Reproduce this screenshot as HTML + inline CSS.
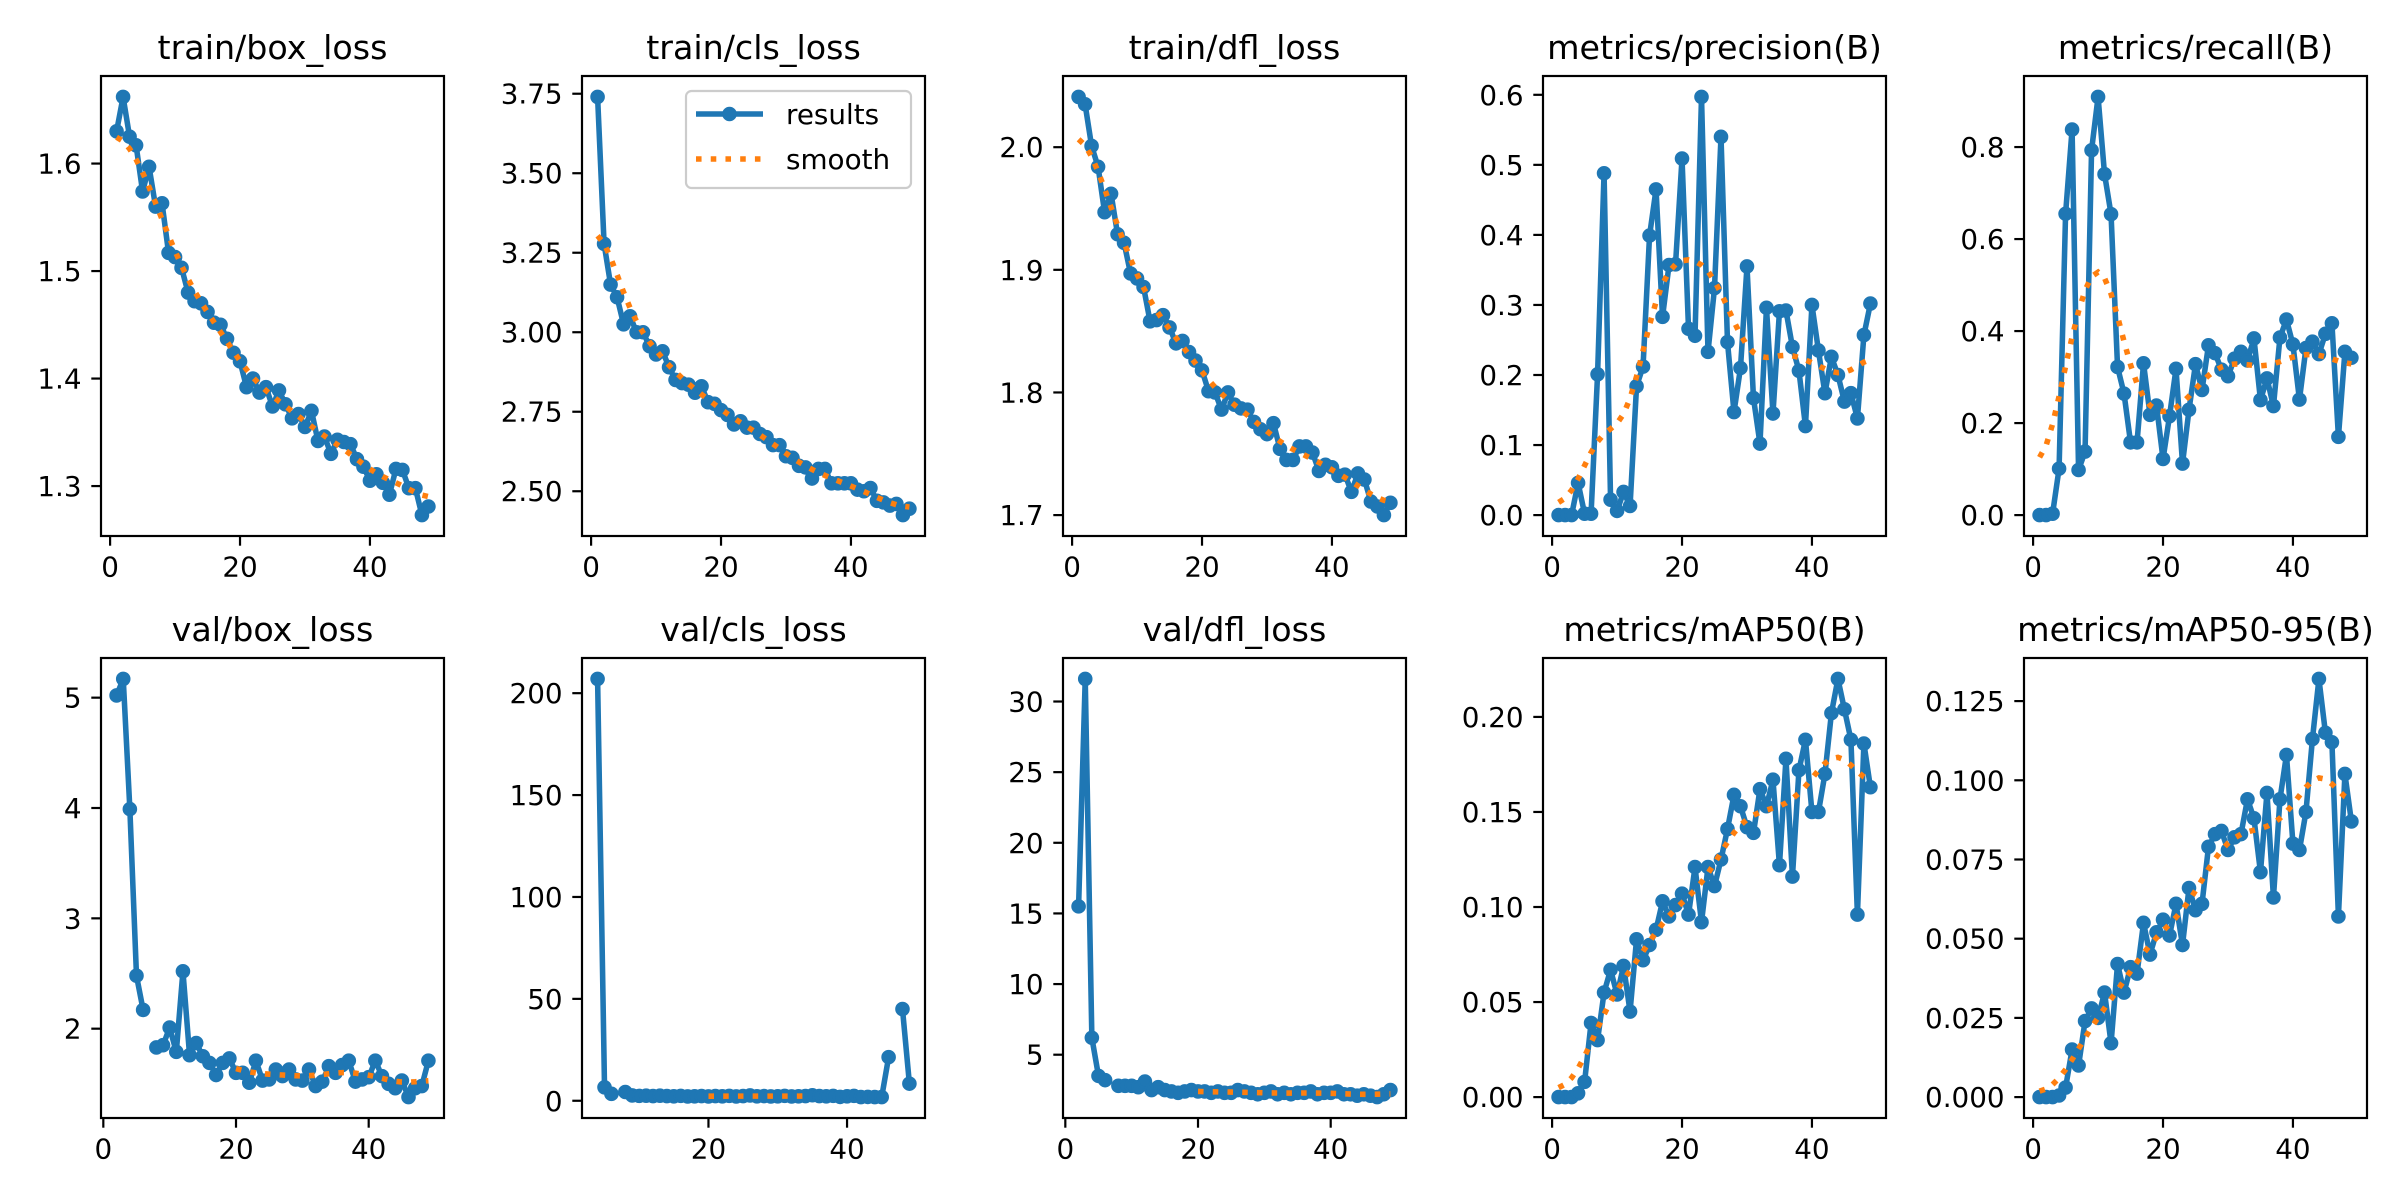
<!DOCTYPE html>
<html><head><meta charset="utf-8"><title>results</title>
<style>
html,body{margin:0;padding:0;background:#fff;}
svg{display:block;font-family:"DejaVu Sans","Liberation Sans",sans-serif;}
</style></head>
<body>
<svg id="fig" width="2400" height="1200" viewBox="0 0 2400 1200" xmlns="http://www.w3.org/2000/svg">
<rect x="0" y="0" width="2400" height="1200" fill="#ffffff"/>
</svg>
<script>
const epochs = [1,2,3,4,5,6,7,8,9,10,11,12,13,14,15,16,17,18,19,20,21,22,23,24,25,26,27,28,29,30,31,32,33,34,35,36,37,38,39,40,41,42,43,44,45,46,47,48,49];

const trainBoxLoss = [1.630,1.662,1.625,1.617,1.574,1.597,1.560,1.563,1.517,1.513,1.503,1.480,1.472,1.470,1.462,1.452,1.450,1.437,1.424,1.416,1.392,1.400,1.387,1.392,1.374,1.389,1.376,1.363,1.367,1.355,1.370,1.342,1.346,1.330,1.343,1.341,1.339,1.325,1.318,1.305,1.311,1.303,1.292,1.316,1.315,1.298,1.298,1.273,1.281];
const trainClsLoss = [3.74,3.278,3.15,3.11,3.025,3.05,3.00,3.00,2.956,2.93,2.94,2.89,2.85,2.84,2.835,2.81,2.83,2.78,2.775,2.755,2.74,2.71,2.72,2.70,2.70,2.68,2.67,2.645,2.645,2.61,2.605,2.58,2.575,2.54,2.57,2.57,2.525,2.525,2.525,2.525,2.505,2.50,2.51,2.47,2.465,2.455,2.46,2.425,2.445];
const trainDflLoss = [2.041,2.035,2.001,1.984,1.947,1.962,1.929,1.922,1.897,1.893,1.886,1.858,1.859,1.863,1.853,1.840,1.842,1.833,1.826,1.818,1.801,1.800,1.786,1.800,1.790,1.787,1.786,1.776,1.770,1.766,1.775,1.754,1.745,1.745,1.756,1.756,1.751,1.736,1.741,1.739,1.732,1.733,1.719,1.734,1.729,1.711,1.707,1.700,1.710];
const precision = [0,0,0,0.046,0.002,0.002,0.201,0.488,0.022,0.006,0.033,0.013,0.184,0.212,0.399,0.465,0.283,0.357,0.358,0.509,0.266,0.256,0.597,0.233,0.324,0.540,0.247,0.147,0.210,0.355,0.167,0.102,0.296,0.145,0.291,0.292,0.240,0.206,0.127,0.300,0.235,0.174,0.226,0.200,0.162,0.174,0.138,0.257,0.302];
const recall = [0,0,0.003,0.101,0.655,0.838,0.098,0.138,0.793,0.909,0.741,0.654,0.322,0.264,0.158,0.158,0.330,0.218,0.238,0.122,0.215,0.318,0.112,0.229,0.328,0.272,0.369,0.352,0.316,0.302,0.340,0.355,0.336,0.384,0.250,0.297,0.237,0.386,0.425,0.371,0.251,0.363,0.377,0.350,0.394,0.417,0.170,0.355,0.342];
const valBoxLoss = [null,5.02,5.17,3.99,2.48,2.17,null,1.83,1.85,2.01,1.79,2.52,1.76,1.87,1.75,1.69,1.58,1.69,1.73,1.60,1.60,1.51,1.71,1.53,1.54,1.63,1.57,1.63,1.54,1.53,1.63,1.48,1.52,1.66,1.60,1.67,1.71,1.52,1.54,1.56,1.71,1.57,1.50,1.46,1.53,1.38,1.46,1.48,1.71];
const valClsLoss = [null,null,null,207,6.6,3.4,null,4.3,2.6,2.4,2.5,2.3,2.5,2.3,2.2,2.4,2.1,2.2,2.3,2.1,2.3,2.2,2.4,2.1,2.3,2.6,2.2,2.3,2.1,2.2,2.4,2.1,2.2,2.3,2.7,2.3,2.2,2.4,1.9,2.2,2.4,1.8,1.9,1.8,1.8,21.4,null,45,8.4];
const valDflLoss = [null,15.5,31.6,6.2,3.5,3.2,null,2.8,2.8,2.8,2.7,3.1,2.5,2.7,2.5,2.4,2.3,2.4,2.5,2.4,2.4,2.3,2.4,2.3,2.3,2.5,2.4,2.3,2.2,2.3,2.4,2.2,2.3,2.2,2.3,2.3,2.4,2.2,2.3,2.3,2.4,2.2,2.2,2.1,2.2,2.1,2.0,2.2,2.5];
const mAP50 = [0,0,0,0.002,0.008,0.039,0.030,0.055,0.067,0.054,0.069,0.045,0.083,0.072,0.080,0.088,0.103,0.095,0.101,0.107,0.096,0.121,0.092,0.121,0.111,0.125,0.141,0.159,0.153,0.142,0.139,0.162,0.153,0.167,0.122,0.178,0.116,0.172,0.188,0.150,0.150,0.170,0.202,0.220,0.204,0.188,0.096,0.186,0.163];
const mAP5095 = [0,0,0,0.0005,0.003,0.015,0.010,0.024,0.028,0.025,0.033,0.017,0.042,0.033,0.041,0.039,0.055,0.045,0.052,0.056,0.051,0.061,0.048,0.066,0.059,0.061,0.079,0.083,0.084,0.078,0.082,0.083,0.094,0.088,0.071,0.096,0.063,0.094,0.108,0.080,0.078,0.090,0.113,0.132,0.115,0.112,0.057,0.102,0.087];

const titles = ["train/box_loss","train/cls_loss","train/dfl_loss","metrics/precision(B)","metrics/recall(B)","val/box_loss","val/cls_loss","val/dfl_loss","metrics/mAP50(B)","metrics/mAP50-95(B)"];
const seriesList = [trainBoxLoss,trainClsLoss,trainDflLoss,precision,recall,valBoxLoss,valClsLoss,valDflLoss,mAP50,mAP5095];
const yTickValues = [[1.3,1.4,1.5,1.6],[2.5,2.75,3.0,3.25,3.5,3.75],[1.7,1.8,1.9,2.0],[0,0.1,0.2,0.3,0.4,0.5,0.6],[0,0.2,0.4,0.6,0.8],[2,3,4,5],[0,50,100,150,200],[5,10,15,20,25,30],[0,0.05,0.10,0.15,0.20],[0,0.025,0.05,0.075,0.1,0.125]];
const yTickLabels = [["1.3","1.4","1.5","1.6"],["2.50","2.75","3.00","3.25","3.50","3.75"],["1.7","1.8","1.9","2.0"],["0.0","0.1","0.2","0.3","0.4","0.5","0.6"],["0.0","0.2","0.4","0.6","0.8"],["2","3","4","5"],["0","50","100","150","200"],["5","10","15","20","25","30"],["0.00","0.05","0.10","0.15","0.20"],["0.000","0.025","0.050","0.075","0.100","0.125"]];
const xTickValues = [0,20,40];
const xTickLabels = ["0","20","40"];
const slugs = ["train-box-loss","train-cls-loss","train-dfl-loss","precision","recall","val-box-loss","val-cls-loss","val-dfl-loss","map50","map50-95"];

// layout (not data)
const colLeft = [101, 582, 1063, 1543, 2024];
const axW = 343;
const rowTop = [76, 658];
const axH = 460;
const BLUE = "#1f77b4", ORANGE = "#ff7f0e";
const NS = "http://www.w3.org/2000/svg";
const svg = document.getElementById("fig");

function mk(tag, attrs, parent) {
  const e = document.createElementNS(NS, tag);
  for (const k in attrs) e.setAttribute(k, attrs[k]);
  (parent || svg).appendChild(e);
  return e;
}

// gaussian_filter1d(sigma=3, mode='reflect', truncate=4), NaN propagates
function gaussSmooth(y) {
  const sigma = 3, r = 12, n = y.length;
  const w = [];
  let s = 0;
  for (let k = -r; k <= r; k++) { const v = Math.exp(-0.5 * k * k / (sigma * sigma)); w.push(v); s += v; }
  const out = [];
  for (let i = 0; i < n; i++) {
    let acc = 0, bad = false;
    for (let k = -r; k <= r; k++) {
      let j = i + k;
      while (j < 0 || j >= n) { if (j < 0) j = -j - 1; if (j >= n) j = 2 * n - j - 1; }
      const v = y[j];
      if (v === null || v === undefined || isNaN(v)) { bad = true; break; }
      acc += v * w[k + r];
    }
    out.push(bad ? null : acc / s);
  }
  return out;
}

function segments(xs, ys, sx, sy) {
  const segs = []; let cur = [];
  for (let i = 0; i < xs.length; i++) {
    if (ys[i] === null) { if (cur.length) segs.push(cur); cur = []; continue; }
    cur.push(sx(xs[i]).toFixed(2) + "," + sy(ys[i]).toFixed(2));
  }
  if (cur.length) segs.push(cur);
  return segs;
}

for (let p = 0; p < 10; p++) {
  const row = Math.floor(p / 5), col = p % 5;
  const L = colLeft[col], T = rowTop[row], W = axW, H = axH;
  const y = seriesList[p];
  const sm = gaussSmooth(y);
  const g = mk("g", {});
  
  

  // data limits
  const vx = epochs.filter((e, i) => y[i] !== null);
  const xmin0 = Math.min(...vx), xmax0 = Math.max(...vx);
  const allY = y.concat(sm).filter(v => v !== null);
  const ymin0 = Math.min(...allY), ymax0 = Math.max(...allY);
  const xm = (xmax0 - xmin0) * 0.05, ym = (ymax0 - ymin0) * 0.05;
  const x0 = xmin0 - xm, x1 = xmax0 + xm, y0 = ymin0 - ym, y1 = ymax0 + ym;
  const sx = v => L + (v - x0) / (x1 - x0) * W;
  const sy = v => T + H - (v - y0) / (y1 - y0) * H;

  // title
  const t = mk("text", {x: L + W / 2, y: T - 17, "text-anchor": "middle", "font-size": "33.3", fill: "#000"}, g);
  t.textContent = titles[p];
  
  

  // results line
  const segs = segments(epochs, y, sx, sy);
  segs.forEach(sg => {
    const pl = mk("polyline", {points: sg.join(" "), fill: "none", stroke: BLUE, "stroke-width": "5.56", "stroke-linejoin": "round", "stroke-linecap": "butt"}, g);
    
    
  });
  for (let i = 0; i < epochs.length; i++) {
    if (y[i] === null) continue;
    const c = mk("circle", {cx: sx(epochs[i]).toFixed(2), cy: sy(y[i]).toFixed(2), r: "6.2", fill: BLUE, stroke: BLUE, "stroke-width": "2.2"}, g);
    
    
  }
  // smooth line
  const ssegs = segments(epochs, sm, sx, sy);
  ssegs.forEach(sg => {
    if (sg.length < 2) return;
    const pl = mk("polyline", {points: sg.join(" "), fill: "none", stroke: ORANGE, "stroke-width": "5.56", "stroke-dasharray": "5.56 9.17", "stroke-linecap": "butt"}, g);
    
    
  });

  // frame
  const fr = mk("rect", {x: L, y: T, width: W, height: H, fill: "none", stroke: "#000", "stroke-width": "2.2"}, g);
  
  

  // y ticks
  const yt = yTickValues[p];
  for (let i = 0; i < yt.length; i++) {
    const yy = sy(yt[i]);
    if (yy < T - 1 || yy > T + H + 1) continue;
    const tk = mk("line", {x1: L - 9.7, x2: L, y1: yy, y2: yy, stroke: "#000", "stroke-width": "2.2"}, g);
    
    
    const tl = mk("text", {x: L - 19.4, y: yy + 10, "text-anchor": "end", "font-size": "27.8", fill: "#000"}, g);
    tl.textContent = yTickLabels[p][i];
    
    
  }
  // x ticks
  for (let i = 0; i < xTickValues.length; i++) {
    const xx = sx(xTickValues[i]);
    if (xx < L - 1 || xx > L + W + 1) continue;
    const tk = mk("line", {x1: xx, x2: xx, y1: T + H, y2: T + H + 9.7, stroke: "#000", "stroke-width": "2.2"}, g);
    
    
    const tl = mk("text", {x: xx, y: T + H + 40.5, "text-anchor": "middle", "font-size": "27.8", fill: "#000"}, g);
    tl.textContent = xTickLabels[i];
    
    
  }

  // legend on train/cls_loss
  if (p === 1) {
    const lg = mk("g", {}, g);
    
    
    const bx = L + W - 14 - 225, by = T + 15;
    mk("rect", {x: bx, y: by, width: 225, height: 97, rx: 5.5, fill: "#fff", "fill-opacity": "0.8", stroke: "#cccccc", "stroke-width": "2.2"}, lg);
    const e1 = mk("g", {}, lg);
    
    
    mk("line", {x1: bx + 10, x2: bx + 77, y1: by + 23, y2: by + 23, stroke: BLUE, "stroke-width": "5.56"}, e1);
    mk("circle", {cx: bx + 43.5, cy: by + 23, r: 6.2, fill: BLUE, stroke: BLUE, "stroke-width": "2.2"}, e1);
    const lt1 = mk("text", {x: bx + 100, y: by + 33, "font-size": "27.8", fill: "#000"}, e1);
    lt1.textContent = "results";
    const e2 = mk("g", {}, lg);
    
    
    mk("line", {x1: bx + 10, x2: bx + 77, y1: by + 68, y2: by + 68, stroke: ORANGE, "stroke-width": "5.56", "stroke-dasharray": "5.56 9.17"}, e2);
    const lt2 = mk("text", {x: bx + 100, y: by + 78, "font-size": "27.8", fill: "#000"}, e2);
    lt2.textContent = "smooth";
  }
}
</script>
</body></html>
